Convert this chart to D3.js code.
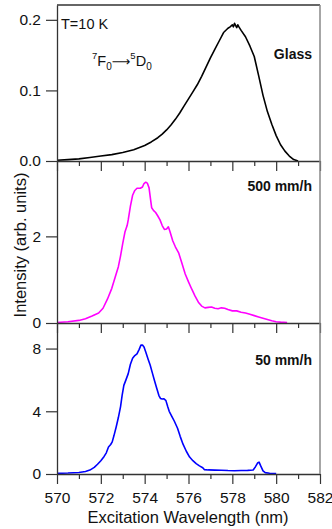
<!DOCTYPE html>
<html>
<head>
<meta charset="utf-8">
<script src="https://cdn.jsdelivr.net/npm/d3@7"></script>
<style>
html,body{margin:0;padding:0;background:#fff;}
svg{display:block;font-family:"Liberation Sans",Arial,sans-serif;}
</style>
</head>
<body>
<svg id="chart" width="332" height="529"></svg>
<script>
// ---- data ----
const glassWl  = [570.0,570.5,571.0,571.5,572.0,572.5,573.0,573.5,574.0,574.3,574.6,574.8,575.0,575.2,575.4,575.6,575.8,576.0,576.2,576.4,576.6,576.8,577.0,577.2,577.4,577.6,577.8,577.9,578.0,578.05,578.1,578.2,578.25,578.3,578.4,578.6,578.8,579.0,579.2,579.4,579.6,579.8,580.0,580.2,580.4,580.6,580.8,581.0];
const glassInt = [0.001,0.002,0.003,0.005,0.007,0.009,0.012,0.016,0.022,0.027,0.033,0.038,0.044,0.051,0.059,0.068,0.078,0.088,0.098,0.108,0.120,0.133,0.146,0.158,0.170,0.182,0.188,0.190,0.193,0.190,0.195,0.189,0.193,0.190,0.185,0.176,0.163,0.148,0.121,0.093,0.070,0.052,0.036,0.023,0.014,0.007,0.002,0.000];

const r500Wl  = [570.0,570.5,571.0,571.3,571.6,571.9,572.1,572.3,572.5,572.65,572.8,572.9,573.0,573.1,573.2,573.25,573.35,573.45,573.55,573.65,573.8,573.9,573.97,574.05,574.12,574.2,574.27,574.32,574.4,574.5,574.6,574.7,574.8,574.9,575.0,575.08,575.15,575.28,575.4,575.55,575.7,575.85,576.0,576.15,576.3,576.45,576.6,576.75,576.9,577.05,577.2,577.35,577.5,577.65,577.8,578.0,578.2,578.4,578.6,578.8,579.0,579.2,579.4,579.6,579.8,580.0,580.2,580.5];
const r500Int = [0.01,0.03,0.06,0.10,0.16,0.23,0.34,0.55,0.80,1.05,1.30,1.55,1.84,2.10,2.25,2.38,2.70,2.95,3.06,3.11,3.11,3.14,3.22,3.25,3.23,3.12,2.85,2.66,2.60,2.55,2.47,2.38,2.25,2.16,2.17,2.22,2.12,1.90,1.76,1.62,1.38,1.13,0.95,0.78,0.62,0.48,0.39,0.35,0.36,0.37,0.34,0.33,0.35,0.34,0.31,0.28,0.28,0.25,0.23,0.20,0.17,0.14,0.11,0.08,0.05,0.03,0.02,0.01];

const r50Wl  = [570.0,570.5,571.0,571.3,571.5,571.7,571.85,572.0,572.15,572.25,572.35,572.45,572.52,572.6,572.7,572.8,572.9,572.97,573.05,573.15,573.25,573.35,573.45,573.55,573.65,573.75,573.83,573.9,573.97,574.05,574.15,574.25,574.35,574.45,574.55,574.65,574.72,574.8,574.88,574.97,575.05,575.12,575.25,575.35,575.5,575.62,575.75,575.9,576.05,576.2,576.35,576.5,576.65,576.72,576.9,577.2,577.5,577.8,578.1,578.4,578.7,578.95,579.05,579.15,579.22,579.3,579.4,579.5,579.7,580.0];
const r50Int = [0.04,0.06,0.10,0.16,0.25,0.42,0.62,0.85,1.12,1.35,1.72,1.88,2.05,2.45,3.00,3.60,4.30,5.00,5.65,6.02,6.40,7.00,7.38,7.55,7.66,7.95,8.22,8.22,8.10,7.78,7.35,6.95,6.45,5.95,5.47,5.00,4.82,4.78,4.80,4.68,4.30,4.00,3.65,3.38,2.92,2.40,1.90,1.45,1.08,0.85,0.66,0.52,0.40,0.28,0.26,0.25,0.24,0.22,0.21,0.22,0.23,0.26,0.45,0.70,0.76,0.50,0.20,0.09,0.05,0.03];

const xDomain = [570, 582];
const xTickValues = [570,572,574,576,578,580,582];
const xMinorValues = [571,573,575,577,579,581];

const panelLabels = ["Glass", "500 mm/h", "50 mm/h"];
const panelColors = ["#000000", "#ff00ff", "#0000ff"];
const panelYMax = [0.221, 3.74, 9.63];
const panelYTicks = [[0, 0.1, 0.2], [0, 2], [0, 4, 8]];
const panelYFormat = [".1f", "d", "d"];

// ---- layout ----
const svg = d3.select("#chart");
const left = 57, right = 320;
const panelTops = [5, 161, 323];
const panelBottoms = [161, 323, 474];
const axisColor = "#333";

const x = d3.scaleLinear().domain(xDomain).range([left, right]);

const series = [
  d3.zip(glassWl, glassInt),
  d3.zip(r500Wl, r500Int),
  d3.zip(r50Wl, r50Int)
];

for (let i = 0; i < 3; i++) {
  const y = d3.scaleLinear().domain([0, panelYMax[i]]).range([panelBottoms[i], panelTops[i]]);

  const line = d3.line().x(d => x(d[0])).y(d => y(d[1]));
  svg.append("path").datum(series[i])
    .attr("d", line)
    .attr("fill", "none")
    .attr("stroke", panelColors[i])
    .attr("stroke-width", 1.6)
    .attr("stroke-linejoin", "round");

  const gx = svg.append("g").attr("transform", `translate(0,${panelBottoms[i]})`);
  gx.call(d3.axisBottom(x).tickValues(xTickValues).tickSize(10).tickSizeOuter(0)
      .tickFormat(i === 2 ? d3.format("d") : () => ""));
  gx.select(".domain").attr("stroke", axisColor).attr("stroke-width", 1.3);
  gx.selectAll(".tick line").attr("stroke", axisColor).attr("stroke-width", 1.2);
  gx.selectAll(".tick text").attr("font-size", 15.5).attr("fill", "#111").attr("dy", "1.05em")
    .attr("font-family", "Liberation Sans, Arial, sans-serif");
  const gxm = svg.append("g").attr("transform", `translate(0,${panelBottoms[i]})`);
  gxm.call(d3.axisBottom(x).tickValues(xMinorValues).tickSize(5).tickSizeOuter(0).tickFormat(() => ""));
  gxm.select(".domain").remove();
  gxm.selectAll(".tick line").attr("stroke", axisColor).attr("stroke-width", 1.2);

  const gy = svg.append("g").attr("transform", `translate(${left},0)`);
  gy.call(d3.axisLeft(y).tickValues(panelYTicks[i]).tickSize(11).tickSizeOuter(0)
      .tickFormat(d3.format(panelYFormat[i])));
  gy.select(".domain").attr("stroke", axisColor).attr("stroke-width", 1.3);
  gy.selectAll(".tick line").attr("stroke", axisColor).attr("stroke-width", 1.2);
  gy.selectAll(".tick text").attr("font-size", 15.5).attr("fill", "#111").attr("x", -16)
    .attr("font-family", "Liberation Sans, Arial, sans-serif");

  const labelY = [59, 191, 365][i];
  svg.append("text").attr("x", 312).attr("y", labelY)
    .attr("text-anchor", "end").attr("font-size", 14).attr("font-weight", "bold")
    .attr("fill", "#111").text(panelLabels[i]);
}

svg.append("line").attr("x1", left).attr("x2", right).attr("y1", 5).attr("y2", 5)
  .attr("stroke", axisColor).attr("stroke-width", 1.3);
svg.append("line").attr("x1", right).attr("x2", right).attr("y1", 5).attr("y2", 474)
  .attr("stroke", "#888").attr("stroke-width", 1.5);

svg.append("text").attr("x", 61).attr("y", 29).attr("font-size", 14.5).attr("fill", "#111").text("T=10 K");

const tr = svg.append("text").attr("x", 92).attr("y", 66).attr("font-size", 14.5).attr("fill", "#111");
tr.append("tspan").attr("font-size", 9.5).attr("dy", -7.5).text("7");
tr.append("tspan").attr("dy", 7.5).text("F");
tr.append("tspan").attr("font-size", 10).attr("dy", 3.5).text("0");
tr.append("tspan").attr("dy", -3.5).attr("font-family", "DejaVu Sans").attr("font-size", 13).text("\u27F6");
tr.append("tspan").attr("font-size", 9.5).attr("dy", -7.5).text("5");
tr.append("tspan").attr("dy", 7.5).text("D");
tr.append("tspan").attr("font-size", 10).attr("dy", 3.5).text("0");

svg.append("text").attr("x", 188).attr("y", 523).attr("text-anchor", "middle")
  .attr("font-size", 16.5).attr("fill", "#111").text("Excitation Wavelength (nm)");
svg.append("text").attr("transform", "translate(26,245) rotate(-90)").attr("text-anchor", "middle")
  .attr("font-size", 16.5).attr("fill", "#111").text("Intensity (arb. units)");
</script>
</body>
</html>
